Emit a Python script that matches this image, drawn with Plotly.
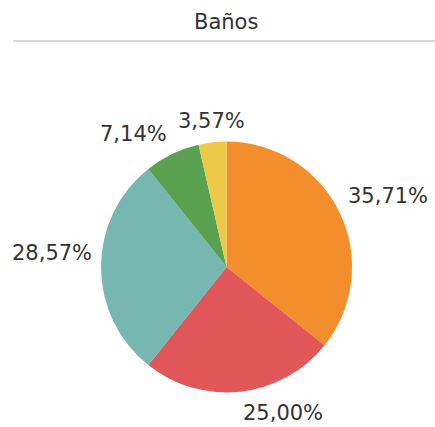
import math
import plotly.graph_objects as go

# ---- data ----
categories = ["1", "2", "3", "4", "5"]
counts = [10, 7, 8, 2, 1]
title_text = "Baños"

# ---- style ----
colors = ["#F28E2B", "#E15759", "#76B7B2", "#59A14F", "#EDC948"]
label_xanchor = ["left", "left", "right", "right", "center"]
FONT = "DejaVu Sans"
TEXT_COLOR = "#333333"

W, H = 435, 427
cx, cy, r = 226.5, 267, 125.5
gap = 7


def px(wx):
    return wx / W


def py(wy):
    return 1 - wy / H


fig = go.Figure(go.Pie(
    labels=categories,
    values=counts,
    sort=False,
    direction="clockwise",
    rotation=0,
    marker=dict(colors=colors, line=dict(width=0)),
    textinfo="none",
    showlegend=False,
    hoverinfo="label+percent",
    domain=dict(x=[px(cx - r), px(cx + r)], y=[py(cy + r), py(cy - r)]),
))

# percentage labels placed outside each slice at its mid-angle
total = sum(counts)
annotations = []
cum = 0
for i, v in enumerate(counts):
    mid = (cum + v / 2) / total * 2 * math.pi
    cum += v
    s, c = math.sin(mid), math.cos(mid)
    R = r + gap
    wx, wy = cx + R * s, cy - R * c
    pct = v / total * 100
    annotations.append(dict(
        text=f"{pct:.2f}%".replace(".", ","),
        x=px(wx), y=py(wy), xref="paper", yref="paper",
        xanchor=label_xanchor[i], yanchor="bottom" if c > -0.01 else "top",
        showarrow=False,
        font=dict(family=FONT, size=21, color=TEXT_COLOR),
    ))

annotations.append(dict(
    text=title_text, x=px(226), y=py(22), xref="paper", yref="paper",
    xanchor="center", yanchor="middle", showarrow=False,
    font=dict(family=FONT, size=21, color=TEXT_COLOR),
))

fig.update_layout(
    width=W, height=H,
    margin=dict(l=0, r=0, t=0, b=0),
    paper_bgcolor="white",
    separators=",.",
    annotations=annotations,
    shapes=[dict(
        type="line", xref="paper", yref="paper",
        x0=px(13), x1=1, y0=py(41), y1=py(41),
        line=dict(color="#d9d9d9", width=2),
    )],
)

fig.write_html(
    "out.html",
    config={"displayModeBar": False},
    post_script="document.body.style.margin='0';document.body.style.overflow='hidden';",
)
